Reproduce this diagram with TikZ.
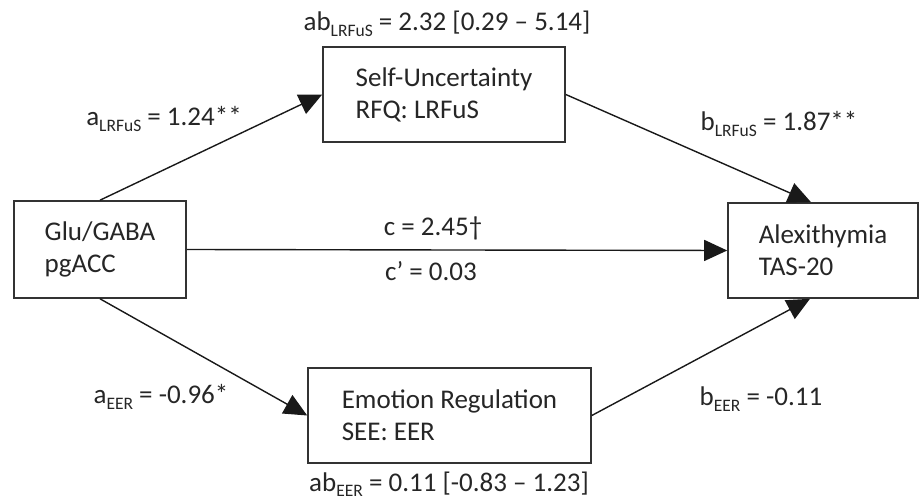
\documentclass[tikz,border=0pt]{standalone}
\usepackage{fontspec}
\setmainfont{Carlito}
\usetikzlibrary{arrows.meta}
\newcommand{\sbs}[1]{\raisebox{-5.5pt}{\fontsize{17.5}{18}\selectfont #1}}
\begin{document}
\begin{tikzpicture}[x=1pt,y=-1pt,
  every node/.style={font=\fontsize{27}{32}\selectfont, text=black!85},
  varbox/.style={draw=black!80, line width=1.6pt, fill=white, align=left, inner sep=0pt},
  lbl/.style={anchor=base, inner sep=0pt},
  path/.style={line width=1.4pt, draw=black!90, -{Triangle[length=23pt,width=21pt]}}]
\useasboundingbox (0,0) rectangle (921,502);
\node[varbox, minimum width=172pt, minimum height=97pt] (L) at (100,249.5) {Glu/GABA\\pgACC};
\node[varbox, minimum width=242pt, minimum height=95pt] (T) at (444,94.5) {Self-Uncertainty\\RFQ: LRFuS};
\node[varbox, minimum width=283pt, minimum height=95pt] (B) at (449.5,415.5) {Emotion Regulation\\SEE: EER};
\node[varbox, minimum width=190pt, minimum height=95pt] (R) at (823,250.5) {Alexithymia\\TAS-20};
\draw[path] (L.north) -- (T.west);
\draw[path] (T.east) -- ([xshift=-12pt]R.north);
\draw[path] (L.east) -- (R.west);
\draw[path] (L.south) -- (B.west);
\draw[path] (B.east) -- ([xshift=-13pt]R.south);
\node[lbl] (abT) at (447,31) {ab\sbs{LRFuS} = 2.32 [0.29 – 5.14]};
\node[lbl] (aT) at (164,126) {a\sbs{LRFuS} = 1.24**};
\node[lbl] (bT) at (779,131) {b\sbs{LRFuS} = 1.87**};
\node[lbl] (c) at (433,236) {c = 2.45†};
\node[lbl] (cp) at (431,281) {c’ = 0.03};
\node[lbl] (aB) at (161,404) {a\sbs{EER} = -0.96*};
\node[lbl] (bB) at (761,406) {b\sbs{EER} = -0.11};
\node[lbl] (abB) at (449,491) {ab\sbs{EER} = 0.11 [-0.83 – 1.23]};
\end{tikzpicture}
\end{document}
